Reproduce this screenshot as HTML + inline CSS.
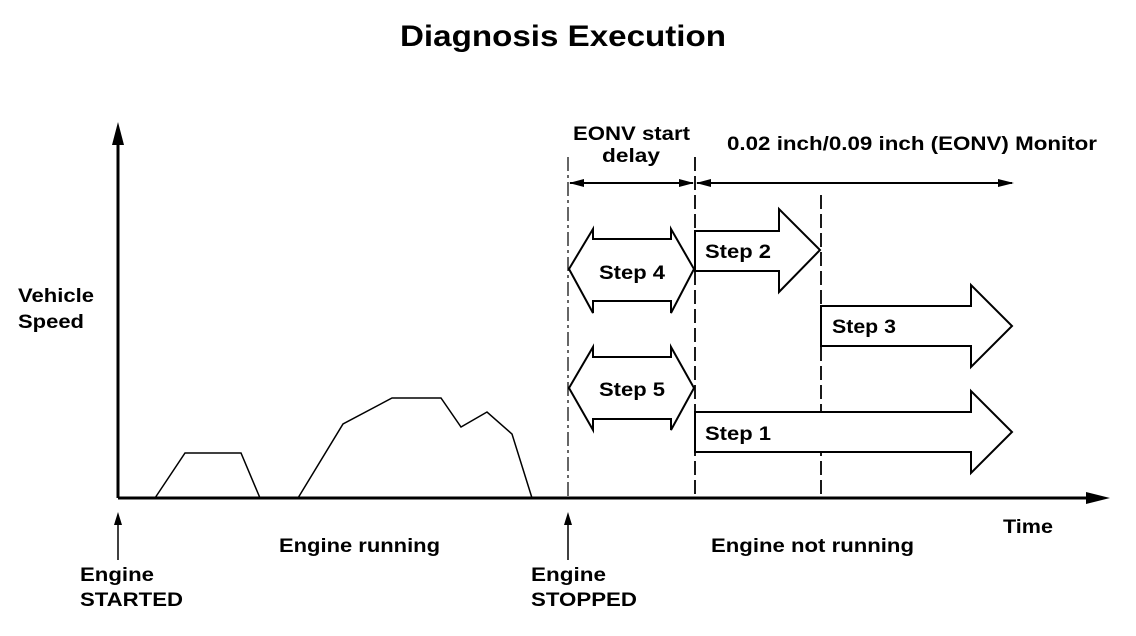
<!DOCTYPE html>
<html><head><meta charset="utf-8"><style>
html,body{margin:0;padding:0;background:#fff;}
svg{display:block;font-family:"Liberation Sans",Arial,sans-serif;font-weight:bold;}
</style></head><body>
<svg width="1136" height="636" viewBox="0 0 1136 636" xmlns="http://www.w3.org/2000/svg">
<text x="400" y="46" font-size="30" textLength="326" lengthAdjust="spacingAndGlyphs">Diagnosis Execution</text>
<line x1="118" y1="498" x2="118" y2="135" stroke="#000" stroke-width="3"/>
<polygon points="118,122 112,145 124,145" fill="#000"/>
<line x1="118" y1="498" x2="1090" y2="498" stroke="#000" stroke-width="3"/>
<polygon points="1110,498 1086,492 1086,504" fill="#000"/>
<polyline points="155,498 185,453 241,453 260,498" fill="none" stroke="#000" stroke-width="1.5"/>
<polyline points="298,498 343,424 392,398 441,398 461,427 487,412 512,434 532,498" fill="none" stroke="#000" stroke-width="1.5"/>
<line x1="568" y1="157" x2="568" y2="498" stroke="#000" stroke-width="1.2" stroke-dasharray="14,4,3,4"/>
<line x1="695" y1="157" x2="695" y2="498" stroke="#000" stroke-width="1.8" stroke-dasharray="14,5"/>
<line x1="821" y1="195" x2="821" y2="498" stroke="#000" stroke-width="1.8" stroke-dasharray="14,5"/>
<line x1="570" y1="183" x2="693" y2="183" stroke="#000" stroke-width="2"/>
<polygon points="569,183 584,179 584,187" fill="#000"/>
<polygon points="694,183 679,179 679,187" fill="#000"/>
<line x1="697" y1="183" x2="1012" y2="183" stroke="#000" stroke-width="2"/>
<polygon points="696,183 711,179 711,187" fill="#000"/>
<polygon points="1014,183 998,179 998,187" fill="#000"/>
<polygon points="569,269 593,229 593,239 671,239 671,229 694,269 671,313 671,301 593,301 593,313" fill="#fff" stroke="#000" stroke-width="2"/>
<polygon points="569,388 593,347 593,357 671,357 671,347 694,388 671,430 671,419 593,419 593,430" fill="#fff" stroke="#000" stroke-width="2"/>
<polygon points="695,231 779,231 779,209 820,250 779,292 779,271 695,271" fill="#fff" stroke="#000" stroke-width="2"/>
<polygon points="821,306 971,306 971,285 1012,326 971,367 971,346 821,346" fill="#fff" stroke="#000" stroke-width="2"/>
<polygon points="695,412 971,412 971,391 1012,432 971,473 971,452 695,452" fill="#fff" stroke="#000" stroke-width="2"/>
<g font-size="19">
<text x="599" y="279" textLength="66" lengthAdjust="spacingAndGlyphs">Step 4</text>
<text x="599" y="396" textLength="66" lengthAdjust="spacingAndGlyphs">Step 5</text>
<text x="705" y="258" textLength="66" lengthAdjust="spacingAndGlyphs">Step 2</text>
<text x="832" y="333" textLength="64" lengthAdjust="spacingAndGlyphs">Step 3</text>
<text x="705" y="440" textLength="66" lengthAdjust="spacingAndGlyphs">Step 1</text>
<text x="573" y="140" textLength="117" lengthAdjust="spacingAndGlyphs">EONV start</text>
<text x="602" y="162" textLength="58" lengthAdjust="spacingAndGlyphs">delay</text>
<text x="727" y="150" textLength="370" lengthAdjust="spacingAndGlyphs">0.02 inch/0.09 inch (EONV) Monitor</text>
<text x="18" y="302" textLength="76" lengthAdjust="spacingAndGlyphs">Vehicle</text>
<text x="18" y="328" textLength="66" lengthAdjust="spacingAndGlyphs">Speed</text>
<text x="1003" y="533" textLength="50" lengthAdjust="spacingAndGlyphs">Time</text>
<text x="279" y="552" textLength="161" lengthAdjust="spacingAndGlyphs">Engine running</text>
<text x="711" y="552" textLength="203" lengthAdjust="spacingAndGlyphs">Engine not running</text>
<text x="80" y="581" textLength="74" lengthAdjust="spacingAndGlyphs">Engine</text>
<text x="80" y="606" textLength="103" lengthAdjust="spacingAndGlyphs">STARTED</text>
<text x="531" y="581" textLength="75" lengthAdjust="spacingAndGlyphs">Engine</text>
<text x="531" y="606" textLength="106" lengthAdjust="spacingAndGlyphs">STOPPED</text>
</g>
<line x1="118" y1="560" x2="118" y2="520" stroke="#000" stroke-width="1.5"/>
<polygon points="118,512 114,525 122,525" fill="#000"/>
<line x1="568" y1="560" x2="568" y2="520" stroke="#000" stroke-width="1.5"/>
<polygon points="568,512 564,525 572,525" fill="#000"/>
</svg>
</body></html>
